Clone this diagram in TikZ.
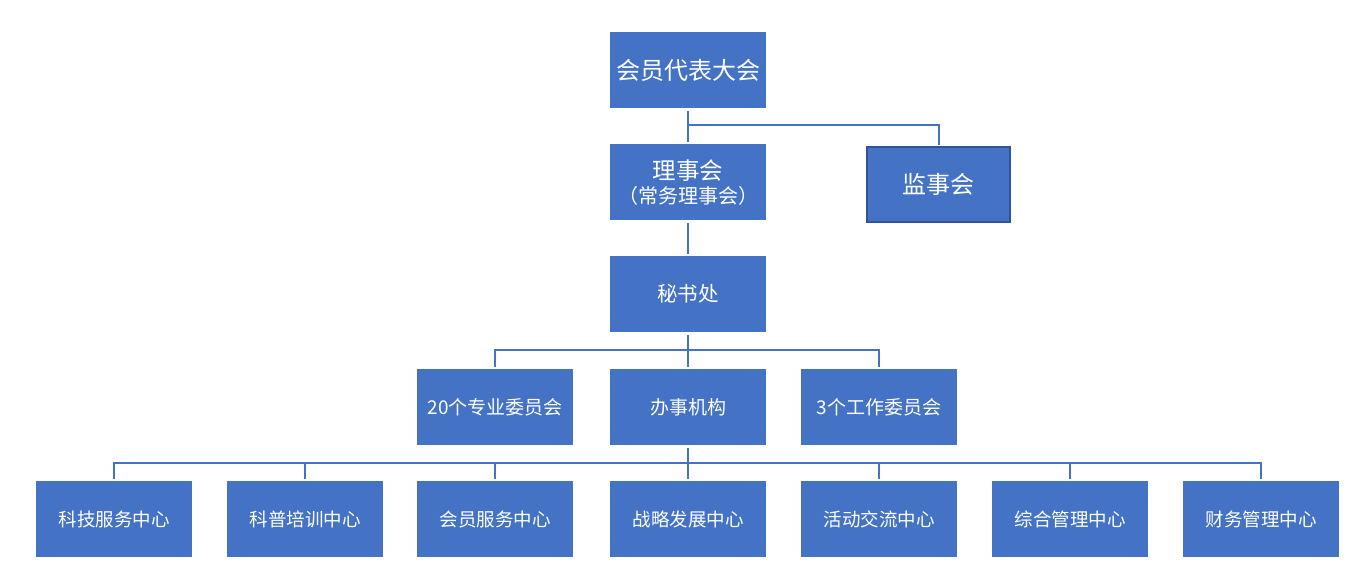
\documentclass[tikz,border=0pt]{standalone}
\usepackage{fontspec}
\setmainfont{Noto Sans CJK SC}
\definecolor{boxblue}{HTML}{4472C4}
\definecolor{edgeblue}{HTML}{2F5597}
\begin{document}
\begin{tikzpicture}[x=1pt,y=-1pt,
  box/.style={fill=boxblue,draw=none,minimum width=156pt,minimum height=76pt,inner sep=0pt,text=white,align=center,anchor=north west},
  conn/.style={draw=boxblue,line width=2pt}]
\useasboundingbox (0,0) rectangle (1361,562);
% level 0
\node[box,font=\fontsize{24}{27}\selectfont] (dahui) at (610,32) {会员代表大会};
% level 1
\node[box,font=\fontsize{23.5}{27}\selectfont] (lishi) at (610,144) {理事会\\[-3pt]{\fontsize{20}{23}\selectfont （常务理事会）}};
\node[box,minimum width=143pt,minimum height=75pt,draw=edgeblue,line width=2pt,font=\fontsize{24}{27}\selectfont] (jianshi) at (866,146) {监事会};
% level 2
\node[box,font=\fontsize{20.5}{24}\selectfont] (mishu) at (610,256) {秘书处};
% level 3
\node[box,font=\fontsize{19}{22}\selectfont] (zhuanwei) at (417,369) {20个专业委员会};
\node[box,font=\fontsize{19}{22}\selectfont] (banshi) at (610,369) {办事机构};
\node[box,font=\fontsize{19}{22}\selectfont] (gongwei) at (801,369) {3个工作委员会};
% level 4
\node[box,font=\fontsize{18.5}{22}\selectfont] (c1) at (36,481) {科技服务中心};
\node[box,font=\fontsize{18.5}{22}\selectfont] (c2) at (227,481) {科普培训中心};
\node[box,font=\fontsize{18.5}{22}\selectfont] (c3) at (417,481) {会员服务中心};
\node[box,font=\fontsize{18.5}{22}\selectfont] (c4) at (610,481) {战略发展中心};
\node[box,font=\fontsize{18.5}{22}\selectfont] (c5) at (801,481) {活动交流中心};
\node[box,font=\fontsize{18.5}{22}\selectfont] (c6) at (992,481) {综合管理中心};
\node[box,font=\fontsize{18.5}{22}\selectfont] (c7) at (1183,481) {财务管理中心};
% connectors
\coordinate (b0) at ([yshift=-17pt]dahui.south);
\draw[conn] ([yshift=-3pt]dahui.south) -- ([yshift=2pt]lishi.north);
\draw[conn] (b0) -| ([yshift=1pt]jianshi.north);
\draw[conn] ([yshift=-3pt]lishi.south) -- ([yshift=2pt]mishu.north);
\coordinate (b2) at ([yshift=-18pt]mishu.south);
\draw[conn] ([yshift=-3pt]mishu.south) -- ([yshift=2pt]banshi.north);
\draw[conn] ([yshift=2pt]zhuanwei.north) |- (b2) -| ([yshift=2pt]gongwei.north);
\coordinate (b3) at ([yshift=-18pt]banshi.south);
\draw[conn] ([yshift=-3pt]banshi.south) -- ([yshift=2pt]c4.north);
\draw[conn] ([yshift=2pt]c1.north) |- (b3) -| ([yshift=2pt]c7.north);
\foreach \n in {c2,c3,c5,c6}{\draw[conn] ([yshift=2pt]\n.north) -- (\n.north |- b3);}
\end{tikzpicture}
\end{document}
